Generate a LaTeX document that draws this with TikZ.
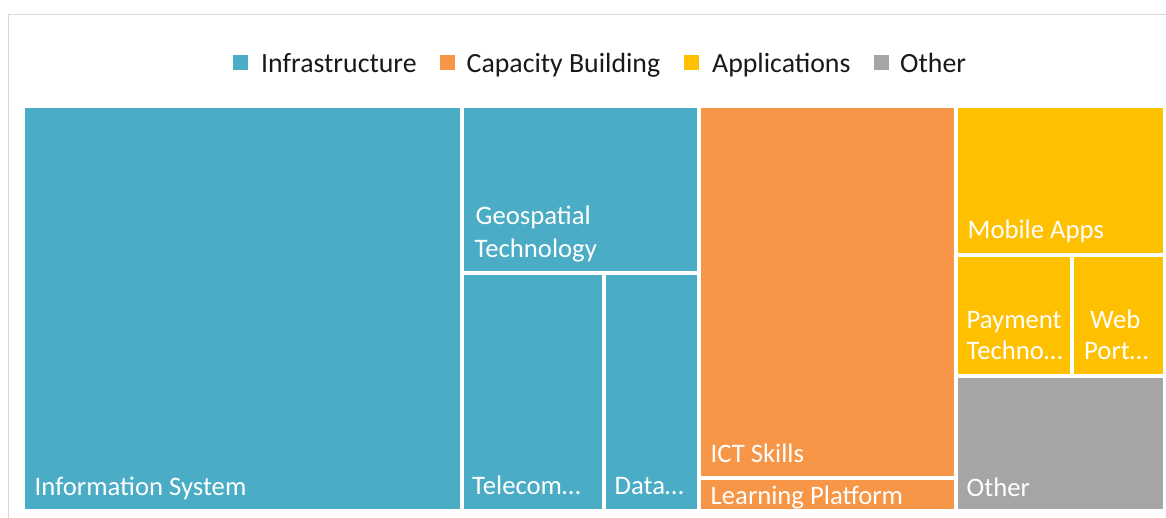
\documentclass[tikz,border=0pt]{standalone}
\usepackage{fontspec}
\setmainfont{Carlito}
\definecolor{cinfra}{HTML}{4BACC6}
\definecolor{ccap}{HTML}{F79646}
\definecolor{capp}{HTML}{FFC000}
\definecolor{coth}{HTML}{A5A5A5}
\definecolor{cframe}{HTML}{D9D9D9}
\begin{document}
\begin{tikzpicture}[x=1pt,y=-1pt,
  cell/.style={draw=none,inner sep=0pt,outer sep=0pt,anchor=north west},
  lab/.style={inner sep=0pt,anchor=base west,text=white,font=\fontsize{26.7}{32}\selectfont,yshift=-1.5pt},
  leg/.style={inner sep=0pt,anchor=base west,text=black!90,font=\fontsize{27.8}{32}\selectfont,yshift=-1pt},
  legsq/.style={draw=none,inner sep=0pt,minimum size=15pt,anchor=north west}]
\useasboundingbox (0,0) rectangle (1166,518);
\fill[white] (0,0) rectangle (1166,518);
% frame
\coordinate (fb) at (8.5,518);
\coordinate (fc) at (8.5,14.5);
\coordinate (fr) at (1166,14.5);
\draw[cframe,line width=1pt] (fb) -- (fc) -- (fr);
% legend
\node[legsq,fill=cinfra] (sq1) at (233,55) {};
\node[leg] (l1) at (261,71.5) {Infrastructure};
\node[legsq,fill=ccap] (sq2) at (439.5,55) {};
\node[leg] (l2) at (466.5,71.5) {Capacity Building};
\node[legsq,fill=capp] (sq3) at (684,55) {};
\node[leg] (l3) at (712,71.5) {Applications};
\node[legsq,fill=coth] (sq4) at (873.5,55) {};
\node[leg] (l4) at (900,71.5) {Other};
% cells
\node[cell,fill=cinfra,minimum width=435pt,minimum height=401pt] (is) at (25,108) {};
\node[cell,fill=cinfra,minimum width=233pt,minimum height=163pt] (geo) at (464,108) {};
\node[cell,fill=cinfra,minimum width=138pt,minimum height=234pt] (tel) at (464,275) {};
\node[cell,fill=cinfra,minimum width=91pt,minimum height=234pt] (dat) at (606,275) {};
\node[cell,fill=ccap,minimum width=253.5pt,minimum height=368pt] (ict) at (700.5,108) {};
\node[cell,fill=ccap,minimum width=253.5pt,minimum height=29pt] (lrn) at (700.5,480) {};
\node[cell,fill=capp,minimum width=205.3pt,minimum height=144.7pt] (mob) at (958,108) {};
\node[cell,fill=capp,minimum width=112pt,minimum height=117.3pt] (pay) at (958,256.7) {};
\node[cell,fill=capp,minimum width=89.3pt,minimum height=117.3pt] (web) at (1074,256.7) {};
\node[cell,fill=coth,minimum width=205.3pt,minimum height=131pt] (oth) at (958,378) {};
% labels
\node[lab] (tis) at (34.5,494.3) {Information System};
\node[lab] (tgeo1) at (475.5,223.3) {Geospatial};
\node[lab] (tgeo2) at (474.5,256) {Technology};
\node[lab] (ttel) at (472,493.3) {Telecom…};
\node[lab] (tdat) at (614.5,493.3) {Data…};
\node[lab] (tict) at (710.5,460.7) {ICT Skills};
\begin{scope}
\clip (lrn.north west) rectangle (lrn.south east);
\node[lab] (tlrn) at (710.5,503.3) {Learning Platform};
\end{scope}
\node[lab] (tmob) at (967.5,236.7) {Mobile Apps};
\node[lab] (tpay1) at (966.5,326.7) {Payment};
\node[lab] (tpay2) at (966.5,358.3) {Techno…};
\node[lab] (tweb1) at (1090,326.7) {Web};
\node[lab] (tweb2) at (1084,358.3) {Port…};
\node[lab] (toth) at (966.5,495) {Other};
\end{tikzpicture}
\end{document}
